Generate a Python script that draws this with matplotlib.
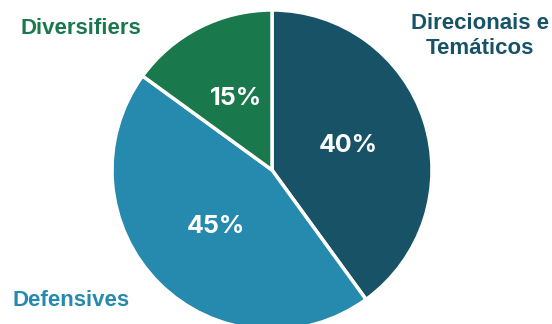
import matplotlib
matplotlib.use("Agg")
import matplotlib.pyplot as plt

# Data
categories = ["Direcionais e\nTemáticos", "Defensives", "Diversifiers"]
shares = [40, 45, 15]
colors = ["#185266", "#2689AE", "#19784C"]

W, H = 552, 324
fig = plt.figure(figsize=(W / 100, H / 100), dpi=100)
ax = fig.add_axes([0, 0, 1, 1])

wedges, texts, autotexts = ax.pie(
    shares,
    colors=colors,
    startangle=90,
    counterclock=False,
    center=(272, 154),
    radius=160,
    autopct="%d%%",
    pctdistance=0.5,
    wedgeprops=dict(edgecolor="white", linewidth=2.5),
    textprops=dict(color="white", fontsize=18, fontweight="bold", family="Inter"),
    frame=True,
)
ax.set_xlim(0, W)
ax.set_ylim(0, H)
ax.set_aspect("equal")
ax.axis("off")

# outer labels
lab_font = dict(fontsize=16, fontweight="bold", family="Liberation Sans")
ax.text(480, 288, categories[0], color=colors[0], ha="center", va="center",
        linespacing=1.25, **lab_font)
ax.text(12, 24, categories[1], color=colors[1], ha="left", va="center", **lab_font)
ax.text(20, 295, categories[2], color=colors[2], ha="left", va="center", **lab_font)

fig.savefig("out.png", dpi=100)
